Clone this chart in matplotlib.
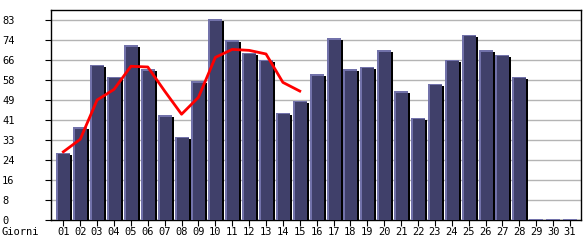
import matplotlib
matplotlib.use("Agg")
import matplotlib.pyplot as plt
import numpy as np

# daily values
days = ["%02d" % d for d in range(1, 32)]
visits = [28, 38.5, 64.5, 59.5, 72.5, 62.5, 43.5, 34.5, 57.5, 83.3,
          74.5, 69.5, 66.5, 44.5, 49.5, 60.5, 75.5, 62.5, 63.5, 70.5,
          53.5, 42.5, 56.5, 66.5, 76.8, 70.5, 68.5, 59.5, 0, 0, 0]
trend = [28.3, 33.5, 49.8, 54.2, 63.8, 63.5, 53.5, 43.9, 50.9, 67.5,
         70.8, 70.4, 68.9, 57.1, 53.5]
ymax_label = 83

W, H = 585, 240
fig = plt.figure(figsize=(W / 100, H / 100), dpi=100)
ax = fig.add_axes([51 / W, 1 - 220 / H, 530 / W, 210 / H])

ymax = ymax_label * 210 / 200
ax.set_xlim(0.27, 31.65)
ax.set_ylim(0, ymax)

x = np.arange(1, 32)
px = 1 / 16.9          # one pixel in x data units
py = ymax / 210        # one pixel in y data units
bw = 14 * px
v = np.array(visits, dtype=float)

# shadow, highlight, body
ax.bar(x + 2 * px, np.maximum(v - 2 * py, 0), width=bw, color="black", zorder=2)
ax.bar(x, np.maximum(v, 1.2 * py), width=bw, color="#7272aa", zorder=3)
ax.bar(x + 1 * px, np.maximum(v - 1.5 * py, 0), width=bw - 2 * px,
       color="#40406a", zorder=4)

ax.plot(x[:len(trend)], trend, color="#ff0000", lw=2, zorder=5)

yt = [ymax_label * k / 10 for k in range(11)]
ax.set_yticks(yt)
ax.set_yticklabels([str(int(t)) for t in yt])
ax.yaxis.grid(True, color="#b4b4b4", lw=1)
ax.set_axisbelow(True)
ax.set_xticks(x)
ax.set_xticklabels(days)

ax.tick_params(axis="y", length=4.3, width=0.8, pad=31,
               labelsize=7.5, labelfontfamily="DejaVu Sans Mono")
ax.tick_params(axis="x", length=4, width=0.8, pad=1,
               labelsize=7.5, labelfontfamily="DejaVu Sans Mono")
for lab in ax.get_yticklabels():
    lab.set_horizontalalignment("left")
for s in ax.spines.values():
    s.set_linewidth(1)
    s.set_color("black")

fig.text(2 / W, 1 - 232 / H, "Giorni", fontsize=7.5,
         family="DejaVu Sans Mono", va="center", ha="left")

fig.savefig("out.png", dpi=100, facecolor="white")
